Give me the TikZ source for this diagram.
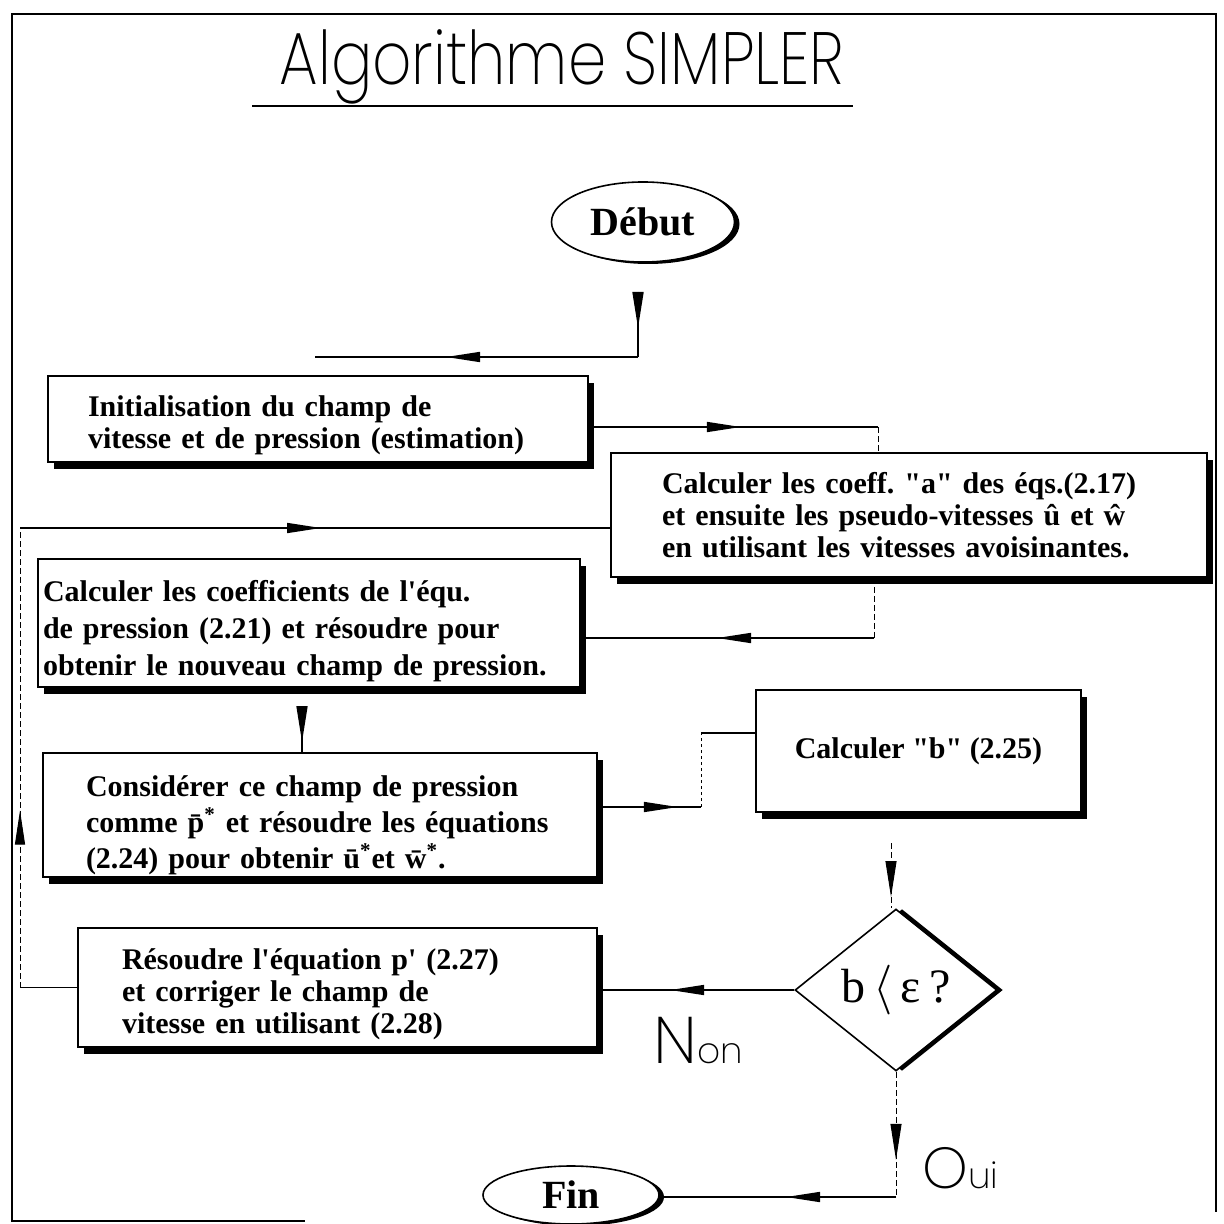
\documentclass[tikz,border=0pt]{standalone}
\usepackage{fontspec}
\usepackage{graphicx}
\setmainfont{Liberation Serif}
\IfFontExistsTF{Poppins ExtraLight}{\newfontfamily\thinfont{Poppins ExtraLight}}{%
 \IfFontExistsTF{Poppins Light}{\newfontfamily\thinfont{Poppins Light}}{%
  \IfFontExistsTF{DejaVu Sans ExtraLight}{\newfontfamily\thinfont{DejaVu Sans ExtraLight}}{%
   \IfFontExistsTF{Lato Light}{\newfontfamily\thinfont{Lato Light}}{%
    \newfontfamily\thinfont{Poppins}}}}}
\usetikzlibrary{shapes.geometric,arrows.meta,decorations.markings,shadows,calc}
\frenchspacing
\newcommand{\topgap}[1]{\rule{0pt}{#1}}
\begin{document}
\begin{tikzpicture}[x=0.5pt,y=-0.5pt,
  box/.style={draw, line width=0.8pt, fill=white, inner ysep=0pt, align=left,
    font=\bfseries\fontsize{15}{16}\selectfont,
    drop shadow={shadow xshift=3.2pt, shadow yshift=-3.6pt, fill=black, opacity=1}},
  oval/.style={draw, ellipse, line width=0.8pt, fill=white, inner sep=0pt,
    font=\bfseries\fontsize{20}{22}\selectfont,
    drop shadow={shadow xshift=2.5pt, shadow yshift=-1pt, fill=black, opacity=1}},
  conn/.style={line width=0.8pt},
  feed/.style={line width=0.5pt, dash pattern=on 3pt off 1.5pt},
  am/.style={postaction={decorate,decoration={markings,
    mark=at position #1 with {\arrow{Triangle[length=17pt,width=5pt]}}}}},
  wm/.style={postaction={decorate,decoration={markings,
    mark=at position #1 with {\arrow{Triangle[length=18pt,width=5.5pt]}}}}},
  lbl/.style={inner sep=0pt, anchor=base west}
]
\fill[white] (0,0) rectangle (1224,1224);
\useasboundingbox (0,0) rectangle (1224,1224);

% frame
\draw[line width=1pt] (12,1222) -- (12,14) -- (1216,14) -- (1216,1212);
\draw[line width=1pt] (12,1221) -- (305,1221);

% title
\node[inner sep=0pt, anchor=base] (title) at (562,85)
  {\scalebox{0.83}[1]{\thinfont\fontsize{37}{40}\selectfont Algorithme SIMPLER}};
\draw[line width=1pt] (252,106) -- (853,106);

% nodes
\node[oval, minimum width=91.5pt, minimum height=40pt] (debut) at (643,222) {Début};

\node[box, minimum width=270pt, minimum height=43pt, inner xsep=20pt,
  text width=230pt] (b1) at (318,419)
  {\topgap{16.3pt}Initialisation du champ de\\ vitesse et de pression (estimation)};

\node[box, minimum width=298pt, minimum height=62pt, inner xsep=25.5pt,
  text width=247pt] (b2) at (909,515)
  {Calculer les coeff. \textquotedbl a\textquotedbl{} des éqs.(2.17)\\ et ensuite les pseudo-vitesses û et ŵ\\ en utilisant les vitesses avoisinantes.};

\node[box, minimum width=271pt, minimum height=64pt, inner xsep=2.5pt,
  text width=266pt, font=\bfseries\fontsize{15}{18.5}\selectfont] (b3) at (309,623)
  {\topgap{18.3pt}Calculer les coefficients de l\textquotesingle équ.\\ de pression (2.21) et résoudre pour\\ obtenir le nouveau champ de pression.};

\node[box, minimum width=277pt, minimum height=62pt, inner xsep=21.5pt,
  text width=234pt, font=\bfseries\fontsize{15}{18}\selectfont] (b4) at (320,815)
  {\topgap{20.5pt}Considérer ce champ de pression\\ comme \={p}\textsuperscript{*} et résoudre les équations\\ (2.24) pour obtenir \={u}\textsuperscript{*}et \={w}\textsuperscript{*}.};

\node[box, minimum width=162.5pt, minimum height=61pt, align=center] (bb) at (918.5,751)
  {Calculer \textquotedbl b\textquotedbl{} (2.25)};

\node[draw, diamond, line width=0.8pt, fill=white, aspect=1.247,
  minimum width=101pt, minimum height=81pt, inner sep=0pt,
  drop shadow={shadow xshift=3pt, shadow yshift=0pt, fill=black, opacity=1},
  font=\fontsize{24}{26}\selectfont] (dia) at (896,990)
  {b\,$\langle$\,ε\,?};

\node[box, minimum width=259.5pt, minimum height=59.5pt, inner xsep=22pt,
  text width=215.5pt] (b5) at (337.5,987.5)
  {\topgap{16.8pt}Résoudre l\textquotesingle équation p\textquotesingle{} (2.27)\\ et corriger le champ de\\ vitesse en utilisant (2.28)};

\node[oval, minimum width=88pt, minimum height=29pt] (fin) at (571,1195) {Fin};

\node[lbl] (non) at (653,1063)
  {\thinfont\fontsize{33}{34}\selectfont N\fontsize{18}{18}\selectfont on};
\node[lbl] (oui) at (922,1188)
  {\thinfont\fontsize{29}{30}\selectfont O\fontsize{18}{18}\selectfont ui};

% coordinates of bends
\coordinate (c1) at (638,292);
\coordinate (c2) at (638,357);
\coordinate (c3) at (315,357);
\coordinate (k1) at (878,427);
\coordinate (L1) at (20,987.5);
\coordinate (L2) at (20,528);
\coordinate (k2) at (874,638);
\coordinate (w1) at (302,708);
\coordinate (k3) at (701,807);
\coordinate (k4) at (701,733);
\coordinate (k5) at (891,843);
\coordinate (k6) at (895,1197);

% connectors
\draw[conn, wm=18pt] (c1) -- (c2);
\draw[conn, am=96pt] (c2) -- (c3);

\draw[conn, am=76pt] (b1.east |- k1) -- (k1);
\draw[feed] (k1) -- (k1 |- b2.north);

\draw[conn] (b5.west) -- (L1);
\draw[feed, am=88.5pt] (L1) -- (L2);
\draw[conn, am=150.5pt] (L2) -- (L2 -| b2.west);

\draw[feed] (k2 |- b2.south) -- (k2);
\draw[conn, am=78.5pt] (k2) -- (k2 -| b3.east);

\draw[conn, wm=17pt] (w1) -- (w1 |- b4.north);

\draw[conn, am=40pt] (b4.east |- k3) -- (k3);
\draw[feed, dash pattern=on 1.5pt off 1.5pt] (k3) -- (k4);
\draw[conn] (k4) -- (k4 -| bb.west);

\draw[feed, wm=27pt] (k5) -- (k5 |- dia.north);

\draw[conn, am=62pt] (dia.west) -- (dia.west -| b5.east);

\draw[feed, wm=44pt] (dia.south) -- (dia.south |- k6);
\draw[conn, am=55pt] (dia.south |- k6) -- (k6 -| fin.east);
\end{tikzpicture}
\end{document}
